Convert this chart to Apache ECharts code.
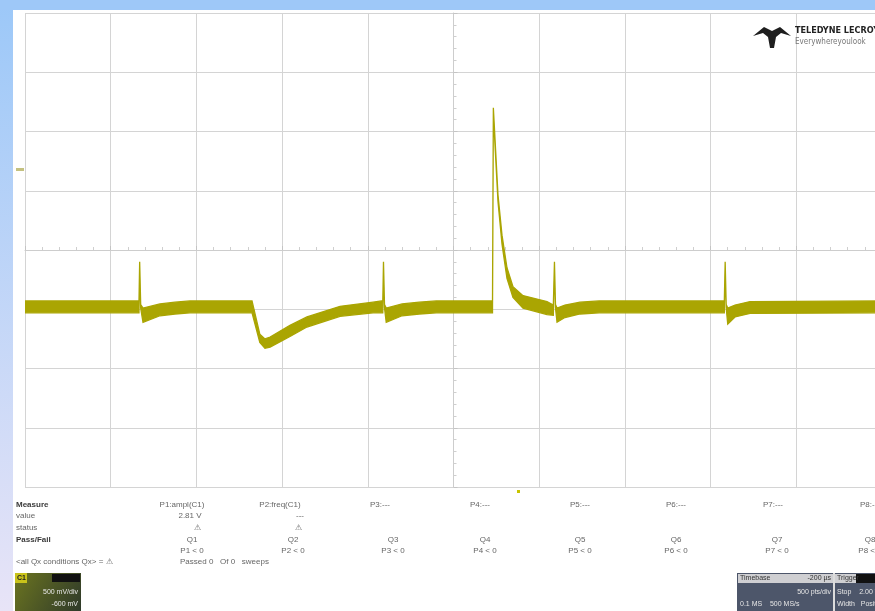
<!DOCTYPE html>
<html style="height: 100%">
<head>
<meta charset="utf-8">
</head>
<body style="height: 100%; margin: 0; overflow: hidden">
<div id="container" style="width: 882px; height: 611px;"></div>
<script type="text/javascript" src="https://cdn.jsdelivr.net/npm/echarts@6/dist/echarts.min.js"></script>
<script type="text/javascript">
// trace envelope in screen divisions, time 0 = trigger (screen centre)
var time = [-5.0, -3.670, -3.662, -3.650, -3.623, -3.425, -3.250, -3.075,
    -2.351, -2.260, -2.200, -2.140, -1.908, -1.710, -1.324, -0.939, -0.840,
    -0.825, -0.817, -0.805, -0.785, -0.600, -0.400, -0.200,
    0.455, 0.465, 0.519, 0.566, 0.624, 0.694, 0.811, 1.091, 1.165,
    1.178, 1.190, 1.208, 1.300, 1.476, 1.700,
    3.160, 3.170, 3.182, 3.200, 3.285, 3.460, 5.0];
var upper = [-0.86, -0.86, -0.20, -0.92, -0.98, -0.91, -0.88, -0.86,
    -0.86, -1.42, -1.50, -1.47, -1.27, -1.13, -0.95, -0.88, -0.86,
    -0.86, -0.20, -0.92, -0.98, -0.91, -0.88, -0.86,
    -0.86, 2.40, 0.93, 0.25, -0.30, -0.62, -0.77, -0.87, -0.93,
    -0.20, -0.92, -0.98, -0.93, -0.88, -0.86,
    -0.86, -0.20, -0.92, -0.98, -0.93, -0.87, -0.86];
var lower = [-1.06, -1.06, -0.28, -0.98, -1.22, -1.11, -1.08, -1.06,
    -1.06, -1.56, -1.66, -1.64, -1.46, -1.30, -1.12, -1.06, -1.06,
    -1.06, -0.28, -0.98, -1.22, -1.11, -1.08, -1.06,
    -1.06, 2.30, 0.82, 0.10, -0.48, -0.80, -0.98, -1.09, -1.10,
    -0.28, -0.98, -1.22, -1.14, -1.08, -1.06,
    -1.06, -0.28, -0.98, -1.25, -1.13, -1.07, -1.06];

// measurement table
var rowNames = ['Measure', 'value', 'status', 'Pass/Fail', '', '<all Qx conditions Qx> = \u26a0'];
var paramNames = ['P1:ampl(C1)', 'P2:freq(C1)', 'P3:---', 'P4:---', 'P5:---', 'P6:---', 'P7:---', 'P8:---'];
var paramValues = ['2.81 V', '---', '', '', '', '', '', ''];
var paramStatus = ['\u26a0', '\u26a0', '', '', '', '', '', ''];
var qNames = ['Q1', 'Q2', 'Q3', 'Q4', 'Q5', 'Q6', 'Q7', 'Q8'];
var qConds = ['P1 < 0', 'P2 < 0', 'P3 < 0', 'P4 < 0', 'P5 < 0', 'P6 < 0', 'P7 < 0', 'P8 < 0'];
var summary = 'Passed 0   Of 0   sweeps';

var dom = document.getElementById('container');
var myChart = echarts.init(dom);
var traceColor = '#aaa502';
var textColor = '#666666';
var font = '"Liberation Sans", Arial, sans-serif';

function renderBand(params, api) {
    if (params.dataIndex !== 0) return;
    var top = [], bottom = [];
    for (var i = 0; i < time.length; i++) {
        top.push(api.coord([time[i], upper[i]]));
        bottom.unshift(api.coord([time[i], lower[i]]));
    }
    return {
        type: 'polygon',
        shape: { points: top.concat(bottom) },
        style: { fill: traceColor, stroke: traceColor, lineWidth: 1.3 }
    };
}

var graphics = [
    // blue frame of the page
    { type: 'rect', shape: { x: 0, y: 0, width: 13, height: 611 }, z: 10,
      style: { fill: new echarts.graphic.LinearGradient(0, 0, 0, 1, [
          { offset: 0, color: '#9cc8f8' }, { offset: 1, color: '#e8e4f7' }]) } },
    { type: 'rect', shape: { x: 0, y: 0, width: 882, height: 10 }, z: 10, style: { fill: '#9ec8f8' } },
    // channel marker / trigger marker
    { type: 'rect', shape: { x: 16, y: 168, width: 8, height: 3 }, z: 10, style: { fill: '#c4c180' } },
    { type: 'rect', shape: { x: 517, y: 490, width: 3, height: 3 }, z: 10, style: { fill: '#c8c400' } },
    // logo
    { type: 'polygon', z: 10, shape: { points: [[753, 36], [764, 27], [772, 31], [780, 27], [791, 36],
        [781, 33], [776, 37], [774, 48], [770, 48], [768, 37], [763, 33]] }, style: { fill: '#1e1e1e' } },
    { type: 'text', x: 795, y: 26, z: 10, style: { text: 'TELEDYNE LECROY', fill: '#222',
        font: 'bold 9px "Liberation Sans Narrow", "DejaVu Sans Condensed", sans-serif' } },
    { type: 'text', x: 795, y: 38, z: 10, style: { text: 'Everywhereyoulook', fill: '#777',
        font: '8px "Liberation Sans Narrow", "DejaVu Sans Condensed", sans-serif' } }
];

var rowY = [505, 516, 528, 540, 551, 562];
var headX = [182, 280, 380, 480, 580, 676, 773, 870];
var colX = [192, 293, 393, 485, 580, 676, 777, 870];

function addText(x, y, s, align, bold) {
    graphics.push({ type: 'text', x: x, y: y, z: 10, style: {
        text: s, fill: bold ? '#3a3a3a' : textColor, align: align, verticalAlign: 'middle',
        font: (bold ? 'bold ' : '') + '8px ' + font } });
}
rowNames.forEach(function (s, i) { addText(16, rowY[i], s, 'left', i === 0 || i === 3); });
paramNames.forEach(function (s, i) { addText(headX[i], rowY[0], s, 'center'); });
paramValues.forEach(function (s, i) { addText(i === 0 ? 190 : 300, rowY[1], s, 'center'); });
paramStatus.forEach(function (s, i) { addText(i === 0 ? 197 : 298, rowY[2], s, 'center'); });
qNames.forEach(function (s, i) { addText(colX[i], rowY[3], s, 'center'); });
qConds.forEach(function (s, i) { addText(colX[i], rowY[4], s, 'center'); });
addText(180, rowY[5], summary, 'left');

// channel descriptor thumbnail
graphics.push(
    { type: 'rect', z: 10, shape: { x: 15, y: 573, width: 66, height: 38 },
      style: { fill: new echarts.graphic.LinearGradient(0, 0, 1, 1, [
          { offset: 0, color: '#6b7420' }, { offset: 1, color: '#2f3a2a' }]) } },
    { type: 'rect', z: 10, shape: { x: 15, y: 573, width: 12, height: 10 }, style: { fill: '#c9c31a' } },
    { type: 'rect', z: 10, shape: { x: 52, y: 574, width: 28, height: 8 }, style: { fill: '#111' } },
    { type: 'text', z: 11, x: 17, y: 578, style: { text: 'C1', fill: '#222', font: 'bold 7px ' + font, verticalAlign: 'middle' } },
    { type: 'text', z: 11, x: 78, y: 592, style: { text: '500 mV/div', fill: '#e8e8e8', font: '7px ' + font, align: 'right', verticalAlign: 'middle' } },
    { type: 'text', z: 11, x: 78, y: 604, style: { text: '-600 mV', fill: '#e8e8e8', font: '7px ' + font, align: 'right', verticalAlign: 'middle' } }
);
// timebase / trigger box
graphics.push(
    { type: 'rect', z: 10, shape: { x: 737, y: 573, width: 145, height: 38 }, style: { fill: '#4d566a' } },
    { type: 'rect', z: 10, shape: { x: 738, y: 574, width: 95, height: 9 }, style: { fill: '#cfcfd2' } },
    { type: 'rect', z: 10, shape: { x: 835, y: 574, width: 47, height: 9 }, style: { fill: '#cfcfd2' } },
    { type: 'rect', z: 10, shape: { x: 856, y: 574, width: 26, height: 9 }, style: { fill: '#111' } },
    { type: 'rect', z: 10, shape: { x: 833, y: 573, width: 2, height: 38 }, style: { fill: '#dcdcdc' } },
    { type: 'text', z: 11, x: 740, y: 578.5, style: { text: 'Timebase', fill: '#333', font: '7px ' + font, verticalAlign: 'middle' } },
    { type: 'text', z: 11, x: 831, y: 578.5, style: { text: '-200 \u00b5s', fill: '#333', font: '7px ' + font, align: 'right', verticalAlign: 'middle' } },
    { type: 'text', z: 11, x: 837, y: 578.5, style: { text: 'Trigger', fill: '#333', font: '7px ' + font, verticalAlign: 'middle' } },
    { type: 'text', z: 11, x: 831, y: 592, style: { text: '500 pts/div', fill: '#e6e6e6', font: '7px ' + font, align: 'right', verticalAlign: 'middle' } },
    { type: 'text', z: 11, x: 740, y: 604, style: { text: '0.1 MS    500 MS/s', fill: '#e6e6e6', font: '7px ' + font, verticalAlign: 'middle' } },
    { type: 'text', z: 11, x: 837, y: 592, style: { text: 'Stop    2.00 V', fill: '#e6e6e6', font: '7px ' + font, verticalAlign: 'middle' } },
    { type: 'text', z: 11, x: 837, y: 604, style: { text: 'Width   Positive', fill: '#e6e6e6', font: '7px ' + font, verticalAlign: 'middle' } }
);

var gridLine = { show: true, lineStyle: { color: '#d4d4d4', width: 1 } };
var centreAxis = {
    axisLine: { show: true, onZero: true, lineStyle: { color: '#cdcdcd', width: 1 } },
    axisTick: { show: true, inside: true, length: 4, lineStyle: { color: '#c4c4c4' } },
    minorTick: { show: true, splitNumber: 5, length: 3, lineStyle: { color: '#cfcfcf' } },
    axisLabel: { show: false },
    splitLine: gridLine
};

option = {
    backgroundColor: '#ffffff',
    animation: false,
    grid: { left: 25, right: 0, top: 13, bottom: 124, show: false },
    xAxis: echarts.util.merge({ type: 'value', min: -5, max: 5, interval: 1 }, centreAxis),
    yAxis: echarts.util.merge({ type: 'value', min: -4, max: 4, interval: 1 }, centreAxis),
    graphic: graphics,
    series: [{
        type: 'custom',
        name: 'C1',
        clip: true,
        renderItem: renderBand,
        data: time.map(function (t, i) { return [t, upper[i], lower[i]]; }),
        encode: { x: 0, y: 1 },
        z: 5
    }]
};
myChart.setOption(option);
</script>
</body>
</html>
